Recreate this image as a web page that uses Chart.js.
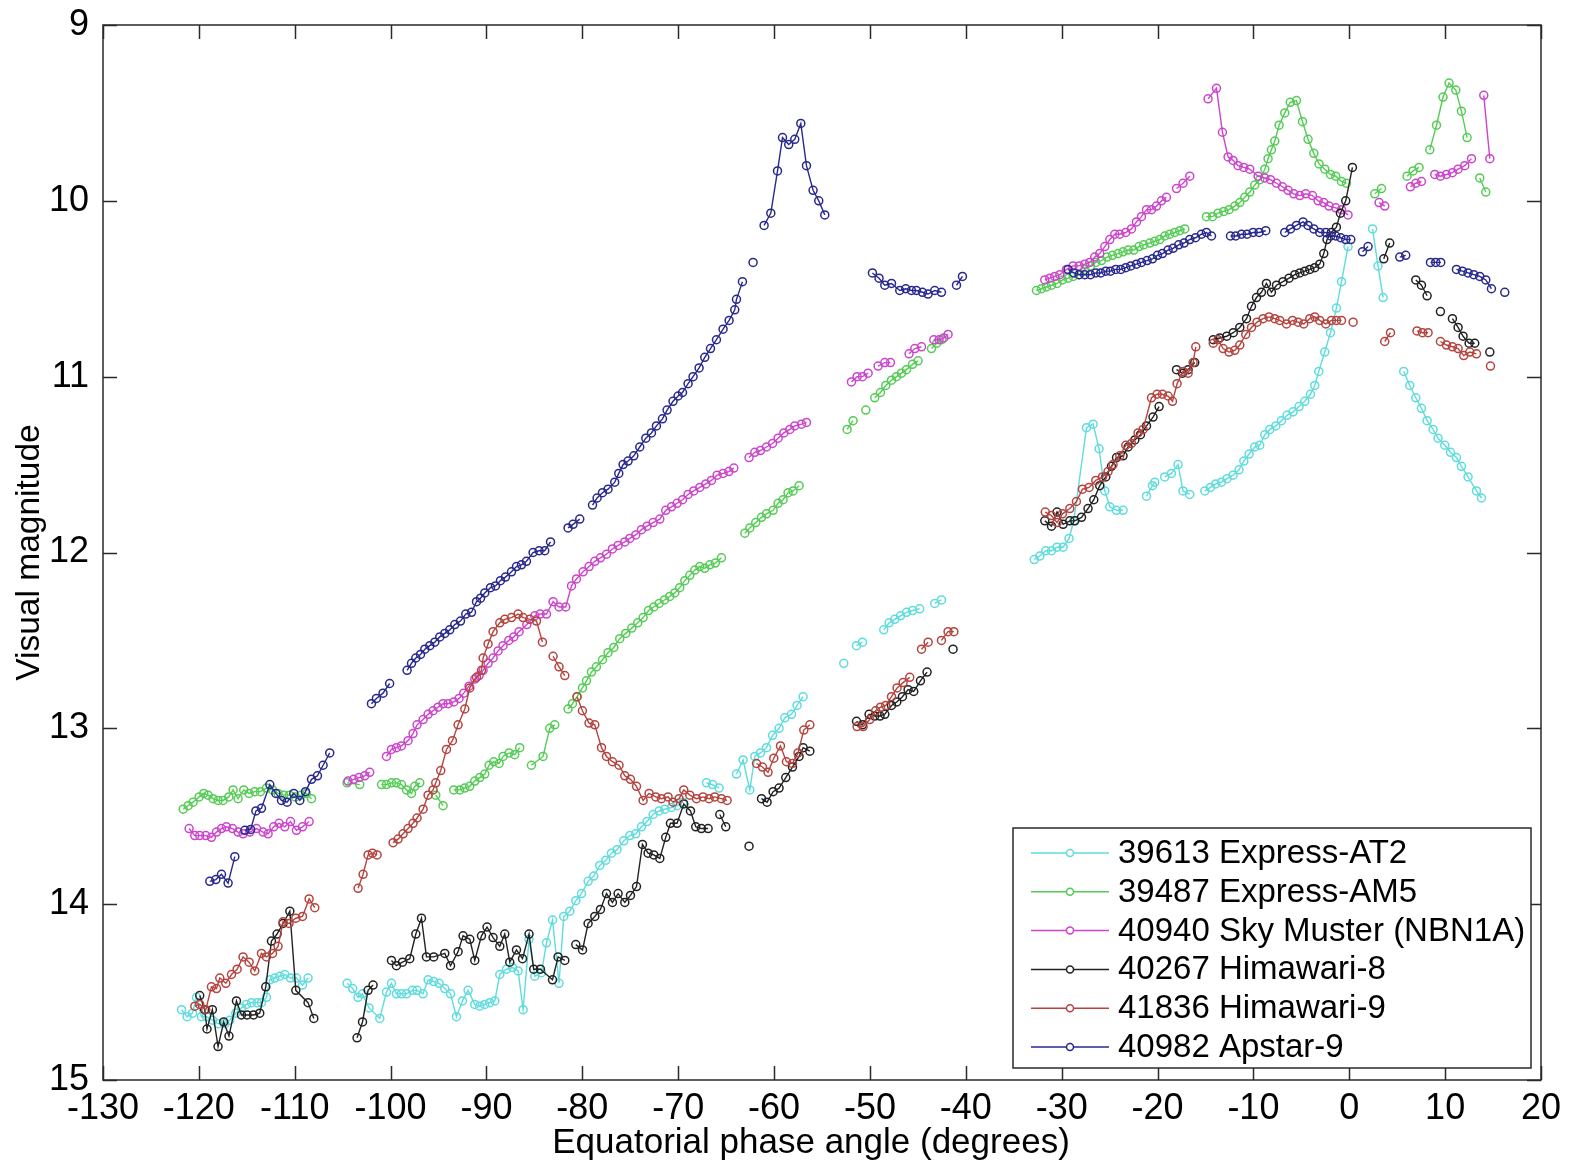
<!DOCTYPE html>
<html>
<head>
<meta charset="utf-8">
<title>Visual magnitude vs equatorial phase angle</title>
<script src="https://cdn.jsdelivr.net/npm/chart.js@4.4.0/dist/chart.umd.min.js"></script>
<style>
  body { margin: 0; background: #fff; }
</style>
</head>
<body>
<canvas id="magChart" width="1574" height="1170"></canvas>
<script>
// axis ticks
const xTicks = [-130, -120, -110, -100, -90, -80, -70, -60, -50, -40, -30, -20, -10, 0, 10, 20];
const yTicks = [9, 10, 11, 12, 13, 14, 15];

const names = [
  '39613 Express-AT2',
  '39487 Express-AM5',
  '40940 Sky Muster (NBN1A)',
  '40267 Himawari-8',
  '41836 Himawari-9',
  '40982 Apstar-9'
];
const colors = ['#5fdcdc', '#55cc55', '#cc45cc', '#222222', '#b5443f', '#28288f'];

// [phase angle, magnitude], null = gap between passes
const at2 = [
  [-121.81,14.60],[-121.23,14.64],[-120.66,14.62],[-120.25,14.53],[-119.73,14.64],[-119.21,14.64],[-118.58,14.66],[-118.00,14.68],[-117.30,14.68],[-116.78,14.66],[-116.15,14.62],[-115.56,14.59],[-115.04,14.57],[-114.51,14.56],[-113.93,14.56],[-113.47,14.56],[-112.95,14.53],[-112.60,14.43],[-112.08,14.42],[-111.56,14.41],[-111.04,14.40],[-110.44,14.42],[-109.82,14.42],[-109.19,14.46],[-108.61,14.42],
  null,
  [-104.54,14.45],[-103.95,14.48],[-103.40,14.53],[-102.93,14.51],[-102.25,14.59],[-101.13,14.65],[-100.43,14.50],[-99.91,14.45],[-99.39,14.51],[-98.87,14.51],[-98.34,14.51],[-97.72,14.49],[-97.24,14.49],[-96.61,14.51],[-96.09,14.43],[-95.50,14.44],[-94.94,14.45],[-94.35,14.48],[-93.75,14.51],[-93.13,14.64],[-92.50,14.55],[-91.92,14.49],[-91.22,14.57],[-90.70,14.58],[-90.18,14.57],[-89.66,14.56],[-89.13,14.55],[-88.61,14.40],[-87.91,14.37],[-87.29,14.36],[-86.70,14.38],[-86.18,14.60],[-85.56,14.20],[-84.96,14.41],[-84.26,14.39],[-83.74,14.22],[-83.11,14.09],[-82.43,14.45],[-81.94,14.07],[-81.31,14.04],[-80.68,13.98],[-80.09,13.94],[-79.40,13.87],[-78.81,13.84],[-78.18,13.78],[-77.55,13.75],[-76.96,13.71],[-76.38,13.69],[-75.68,13.64],[-75.05,13.61],[-74.43,13.60],[-73.83,13.56],[-73.25,13.53],[-72.62,13.49],[-71.99,13.47],[-71.40,13.46],[-70.70,13.45],[-70.12,13.44],[-69.49,13.42],
  null,
  [-67.05,13.31],[-66.42,13.32],[-65.73,13.34],
  null,
  [-63.92,13.26],[-63.23,13.18],[-62.53,13.35],[-62.01,13.16],[-61.42,13.14],[-60.79,13.11],[-60.16,13.04],[-59.48,13.00],[-58.88,12.94],[-58.18,12.92],[-57.60,12.87],[-56.97,12.82],
  null,
  [-52.73,12.63],
  null,
  [-51.40,12.53],[-50.78,12.51],
  null,
  [-48.56,12.44],[-48.00,12.40],[-47.41,12.38],[-46.81,12.36],[-46.19,12.34],[-45.55,12.33],[-44.81,12.32],
  null,
  [-43.24,12.29],[-42.54,12.27],
  null,
  [-32.86,12.04],[-32.28,12.02],[-31.66,11.99],[-31.06,11.99],[-30.48,11.97],[-29.85,11.97],[-29.23,11.92],[-28.74,11.82],[-27.41,11.29],[-26.72,11.27],[-26.10,11.41],[-25.50,11.65],[-24.98,11.74],[-24.28,11.76],[-23.60,11.76],
  null,
  [-21.15,11.68],[-20.53,11.62],[-20.29,11.60],
  null,
  [-19.25,11.57],[-18.55,11.55],[-17.86,11.50],[-17.34,11.65],[-16.64,11.67],
  null,
  [-15.07,11.65],[-14.48,11.63],[-13.93,11.61],[-13.33,11.60],[-12.75,11.58],[-12.12,11.56],[-11.50,11.53],[-11.00,11.48],[-10.45,11.44],[-9.86,11.40],[-9.34,11.39],[-8.81,11.33],[-8.29,11.30],[-7.66,11.28],[-7.07,11.25],[-6.49,11.22],[-5.86,11.20],[-5.24,11.17],[-4.64,11.14],[-4.05,11.10],[-3.60,11.05],[-3.18,10.97],[-2.56,10.86],[-1.96,10.75],[-1.34,10.61],[-0.81,10.46],[-0.13,10.26],
  null,
  [2.43,10.16],[3.00,10.37],[3.53,10.55],
  null,
  [5.68,10.97],[6.31,11.05],[6.94,11.12],[7.53,11.18],[8.12,11.25],[8.74,11.30],[9.26,11.35],[9.96,11.39],[10.56,11.43],[11.18,11.46],[11.70,11.51],[12.39,11.57],[13.27,11.65],[13.79,11.69]
];

const am5 = [
  [-121.64,13.46],[-121.12,13.44],[-120.60,13.42],[-119.97,13.39],[-119.49,13.37],[-119.04,13.38],[-118.52,13.40],[-118.00,13.41],[-117.48,13.41],[-116.88,13.39],[-116.43,13.35],[-115.91,13.40],[-115.32,13.35],[-114.76,13.37],[-114.17,13.36],[-113.58,13.36],[-112.95,13.34],[-112.32,13.35],[-111.74,13.37],[-111.15,13.38],[-110.55,13.38],[-109.95,13.39],[-109.35,13.38],[-108.80,13.37],[-108.25,13.40],
  null,
  [-104.54,13.31],[-103.22,13.32],
  null,
  [-100.95,13.32],[-100.43,13.32],[-99.91,13.31],[-99.39,13.31],[-98.87,13.32],[-98.34,13.35],[-97.82,13.37],[-97.48,13.33],[-96.96,13.31],
  null,
  [-95.29,13.38],[-94.53,13.44],
  null,
  [-93.41,13.35],[-92.79,13.35],[-92.27,13.34],[-91.75,13.33],[-91.22,13.30],[-90.70,13.28],[-90.18,13.26],[-89.73,13.21],[-89.24,13.19],[-88.68,13.20],[-88.27,13.16],[-87.64,13.14],[-87.05,13.15],[-86.53,13.11],
  null,
  [-85.31,13.21],[-84.10,13.16],[-83.40,13.00],[-82.88,12.98],
  null,
  [-81.49,12.89],[-81.03,12.86],[-80.55,12.82],[-79.99,12.77],[-79.57,12.73],[-79.05,12.68],[-78.53,12.65],[-77.90,12.61],[-77.32,12.57],[-76.72,12.54],[-76.10,12.49],[-75.47,12.46],[-74.84,12.43],[-74.22,12.40],[-73.66,12.37],[-73.10,12.33],[-72.55,12.31],[-71.99,12.29],[-71.43,12.27],[-70.88,12.25],[-70.36,12.23],[-69.84,12.20],[-69.31,12.16],[-68.79,12.13],[-68.27,12.10],[-67.75,12.08],[-67.23,12.09],[-66.70,12.07],[-66.13,12.06],[-65.49,12.03],
  null,
  [-63.05,11.89],[-62.53,11.86],[-61.91,11.83],[-61.31,11.80],[-60.79,11.78],[-60.10,11.76],[-59.58,11.72],[-59.06,11.70],[-58.54,11.66],[-58.02,11.65],[-57.39,11.62],
  null,
  [-52.38,11.30],[-51.76,11.25],
  null,
  [-50.43,11.19],
  null,
  [-49.50,11.12],[-48.90,11.09],[-48.35,11.05],[-47.75,11.02],[-47.23,11.00],[-46.71,10.98],[-46.19,10.96],[-45.56,10.93],[-44.98,10.91],
  null,
  [-43.58,10.84],[-43.03,10.81],[-42.51,10.79],
  null,
  [-32.63,10.51],[-32.11,10.50],[-31.59,10.49],[-31.06,10.48],[-30.48,10.47],[-29.92,10.45],[-29.33,10.44],[-28.81,10.43],[-28.18,10.42],[-27.59,10.39],[-27.00,10.37],[-26.44,10.35],[-25.85,10.34],[-25.26,10.32],[-24.70,10.31],[-24.12,10.30],[-23.60,10.29],[-23.07,10.28],[-22.48,10.28],[-21.93,10.26],[-21.44,10.25],[-20.81,10.24],[-20.29,10.23],[-19.77,10.22],[-19.25,10.20],[-18.73,10.19],[-18.20,10.18],[-17.68,10.17],[-17.16,10.16],
  null,
  [-14.90,10.09],[-14.27,10.09],[-13.69,10.07],[-13.09,10.06],[-12.54,10.05],[-11.94,10.03],[-11.42,10.01],[-10.90,9.98],[-10.38,9.95],[-9.86,9.91],[-9.34,9.88],[-8.81,9.82],[-8.47,9.76],[-8.12,9.71],[-7.77,9.66],[-7.32,9.57],[-6.73,9.50],[-6.16,9.44],[-5.51,9.43],[-4.88,9.55],[-4.30,9.65],[-3.70,9.73],[-3.15,9.79],[-2.55,9.82],[-1.96,9.85],[-1.41,9.86],[-0.81,9.89],[-0.29,9.90],
  null,
  [2.66,9.96],[3.36,9.93],
  null,
  [6.03,9.86],[6.65,9.83],[7.28,9.81],
  null,
  [8.40,9.71],[9.10,9.57],[9.78,9.41],[10.41,9.33],[11.11,9.37],[11.70,9.49],[12.29,9.64],
  null,
  [13.61,9.87],[14.24,9.95]
];

const nbn1a = [
  [-121.02,13.57],[-120.43,13.61],[-119.91,13.61],[-119.28,13.61],[-118.69,13.62],[-118.16,13.59],[-117.64,13.57],[-117.12,13.56],[-116.49,13.57],[-115.91,13.59],[-115.39,13.60],[-114.69,13.59],[-113.99,13.57],[-113.30,13.59],[-112.78,13.60],[-112.19,13.56],[-111.63,13.54],[-111.04,13.56],[-110.44,13.53],[-109.82,13.58],[-109.19,13.56],[-108.50,13.53],
  null,
  [-104.44,13.30],[-103.85,13.29],[-103.29,13.28],[-102.70,13.27],[-102.18,13.25],
  null,
  [-100.43,13.16],[-99.91,13.12],[-99.39,13.11],[-98.87,13.10],[-98.18,13.07],[-97.66,13.03],[-97.24,12.98],[-96.61,12.95],[-96.09,12.92],[-95.57,12.90],[-95.05,12.88],[-94.53,12.86],[-94.00,12.86],[-93.41,12.85],[-92.86,12.83],[-92.37,12.80],[-91.82,12.76],[-91.22,12.72],[-90.77,12.70],[-90.35,12.67],[-89.83,12.63],[-89.31,12.60],[-88.79,12.56],[-88.27,12.53],[-87.67,12.50],[-87.15,12.48],[-86.60,12.45],[-85.79,12.41],[-84.96,12.36],[-84.40,12.35],[-83.74,12.35],[-83.05,12.28],[-82.43,12.31],[-81.73,12.31],[-81.13,12.19],[-80.61,12.15],[-79.92,12.11],[-79.30,12.08],[-78.70,12.05],[-78.11,12.03],[-77.48,12.01],[-76.86,11.98],[-76.27,11.96],[-75.57,11.94],[-75.05,11.92],[-74.43,11.90],[-73.83,11.87],[-73.25,11.85],[-72.62,11.83],[-71.92,11.81],[-71.30,11.76],[-70.70,11.74],[-70.12,11.72],[-69.55,11.70],[-68.97,11.67],[-68.38,11.65],[-67.75,11.63],[-67.12,11.61],[-66.53,11.59],[-65.94,11.56],[-65.32,11.55],[-64.72,11.54],[-64.20,11.52],
  null,
  [-62.61,11.46],[-62.01,11.43],[-61.42,11.42],[-60.79,11.40],[-60.16,11.38],[-59.58,11.35],[-58.98,11.32],[-58.36,11.30],[-57.84,11.28],[-57.14,11.27],[-56.62,11.26],
  null,
  [-51.93,11.03],[-51.34,11.00],[-50.78,11.00],[-50.19,10.98],
  null,
  [-49.15,10.94],[-48.45,10.92],[-47.86,10.92],
  null,
  [-45.92,10.87],[-45.32,10.84],[-44.62,10.83],
  null,
  [-43.34,10.79],[-42.79,10.79],[-42.30,10.78],[-41.85,10.76],
  null,
  [-31.76,10.45],[-31.24,10.44],[-30.72,10.43],[-30.19,10.42],[-29.50,10.39],[-28.81,10.37],[-28.18,10.37],[-27.59,10.36],[-27.07,10.35],[-26.55,10.32],[-26.03,10.30],[-25.50,10.26],[-24.98,10.22],[-24.46,10.19],[-23.94,10.19],[-23.31,10.18],[-22.72,10.16],[-22.20,10.12],[-21.68,10.09],[-21.15,10.05],[-20.63,10.05],[-20.11,10.03],[-19.59,10.00],[-19.07,9.98],
  null,
  [-18.02,9.93],[-17.34,9.90],[-16.64,9.86],
  null,
  [-14.73,9.42],[-13.85,9.36],[-13.23,9.61],[-12.64,9.75],[-12.12,9.77],[-11.60,9.80],[-11.00,9.81],[-10.38,9.82],[-9.51,9.86],[-8.81,9.87],[-8.22,9.88],[-7.59,9.90],[-6.97,9.92],[-6.38,9.94],[-5.79,9.96],[-5.16,9.97],[-4.54,9.96],[-3.84,9.97],[-3.25,10.00],[-2.66,10.01],[-2.11,10.03],[-1.41,10.04],[-0.81,10.05],[-0.13,10.08],
  null,
  [3.11,10.01],[3.70,10.03],
  null,
  [6.38,9.92],[6.94,9.90],[7.53,9.89],
  null,
  [8.92,9.85],[9.51,9.86],[10.14,9.85],[10.76,9.84],[11.35,9.82],[12.05,9.80],[12.75,9.76],
  null,
  [14.03,9.40],[14.66,9.76]
];

const himawari8 = [
  [-119.91,14.52],[-119.39,14.60],[-119.15,14.71],[-118.59,14.60],[-118.00,14.81],[-117.41,14.67],[-116.86,14.75],[-116.08,14.55],[-115.56,14.63],[-114.97,14.63],[-114.30,14.63],[-113.65,14.62],[-113.02,14.47],[-112.43,14.21],[-111.84,14.17],[-111.22,14.11],[-110.51,14.04],[-109.89,14.49],[-108.61,14.56],[-108.01,14.65],
  null,
  [-103.50,14.76],[-102.93,14.67],[-102.35,14.49],[-101.83,14.46],
  null,
  [-99.91,14.32],[-99.39,14.35],[-98.76,14.33],[-98.00,14.31],[-97.37,14.17],[-96.78,14.08],[-96.26,14.30],[-95.50,14.30],[-94.35,14.28],[-93.75,14.35],[-92.96,14.27],[-92.44,14.18],[-91.74,14.20],[-91.22,14.32],[-90.52,14.18],[-89.94,14.13],[-89.31,14.19],[-88.61,14.24],[-88.09,14.17],[-87.57,14.33],[-86.87,14.26],[-86.24,14.31],[-85.56,14.17],[-85.07,14.37],[-84.37,14.37],[-83.11,14.43],[-82.53,14.30],[-81.83,14.32],
  null,
  [-80.68,14.23],[-79.98,14.26],[-79.40,14.11],[-78.70,14.07],[-78.11,14.03],[-77.48,13.94],[-76.86,13.99],[-76.27,13.94],[-75.57,13.99],[-74.98,13.95],[-74.35,13.90],[-73.73,13.66],[-73.14,13.71],[-72.55,13.72],[-71.92,13.74],[-71.30,13.62],[-70.81,13.54],[-70.12,13.54],[-69.42,13.43],[-68.72,13.47],[-68.17,13.56],[-67.58,13.57],[-66.88,13.57],
  null,
  [-65.66,13.49],[-65.04,13.56],
  null,
  [-62.61,13.67],
  null,
  [-61.31,13.40],[-60.73,13.42],[-60.10,13.36],[-59.48,13.34],[-58.78,13.28],[-58.08,13.22],[-57.39,13.16],[-56.97,13.11],[-56.27,13.13],
  null,
  [-51.40,12.96],[-50.78,12.98],[-50.09,12.92],[-49.50,12.93],[-48.95,12.93],[-48.45,12.92],[-47.75,12.87],[-47.20,12.85],[-46.61,12.82],[-46.02,12.78],[-45.43,12.79],[-44.73,12.73],[-44.04,12.68],
  null,
  [-41.33,12.55],
  null,
  [-31.76,11.82],[-31.06,11.85],[-30.48,11.77],[-29.85,11.84],[-29.15,11.82],[-28.63,11.82],[-27.93,11.80],[-27.25,11.75],[-26.65,11.70],[-26.03,11.62],[-25.40,11.57],[-24.81,11.51],[-24.28,11.46],[-23.60,11.45],[-23.07,11.40],[-22.37,11.36],[-21.78,11.33],[-21.15,11.28],[-20.47,11.23],[-19.84,11.17],
  null,
  [-18.02,10.96],[-17.40,10.98],[-16.81,10.96],[-16.12,10.92],
  null,
  [-14.19,10.79],[-13.51,10.78],[-12.78,10.77],[-12.10,10.75],[-11.42,10.72],[-10.72,10.67],[-10.20,10.60],[-9.68,10.55],[-9.16,10.52],[-8.64,10.47],[-8.12,10.52],[-7.59,10.48],[-6.91,10.46],[-6.28,10.44],[-5.68,10.42],[-5.16,10.41],[-4.64,10.40],[-4.12,10.39],[-3.60,10.38],[-3.08,10.36],[-2.66,10.30],[-2.32,10.22],[-1.86,10.18],[-1.34,10.15],[-0.92,10.07],[-0.37,10.00],[0.33,9.81],
  null,
  [3.60,10.33],[4.22,10.24],
  null,
  [6.94,10.45],[7.53,10.48],[8.12,10.54],
  null,
  [9.51,10.63],
  null,
  [10.76,10.67],[11.35,10.72],[11.87,10.77],[12.50,10.81],[13.09,10.81],
  null,
  [14.66,10.86]
];

const himawari9 = [
  [-120.42,14.58],[-119.91,14.57],[-119.28,14.60],[-118.69,14.47],[-118.16,14.48],[-117.82,14.42],[-117.19,14.45],[-116.60,14.40],[-116.01,14.37],[-115.39,14.30],[-114.76,14.33],[-114.17,14.38],[-113.47,14.28],[-112.95,14.30],[-112.32,14.28],[-111.74,14.24],[-111.22,14.10],[-110.59,14.11],[-109.89,14.08],[-109.19,14.07],[-108.50,13.97],[-107.91,14.02],
  null,
  [-103.39,13.91],[-102.87,13.83],[-102.35,13.72],[-101.89,13.71],[-101.41,13.72],
  null,
  [-99.74,13.65],[-99.22,13.63],[-98.70,13.60],[-98.18,13.57],[-97.66,13.54],[-97.24,13.51],[-96.61,13.46],[-96.09,13.38],[-95.57,13.35],[-95.29,13.31],[-94.77,13.24],[-94.17,13.12],[-93.55,13.07],[-92.96,12.98],[-92.26,12.89],[-91.74,12.77],[-91.04,12.71],[-90.52,12.67],[-90.35,12.60],[-89.83,12.52],[-89.31,12.45],[-88.61,12.40],[-88.09,12.38],[-87.39,12.37],[-86.70,12.35],[-86.18,12.37],[-85.48,12.38],[-84.78,12.39],[-84.16,12.51],
  null,
  [-83.05,12.59],[-82.43,12.65],[-81.83,12.70],
  null,
  [-80.55,12.82],[-79.99,12.90],[-79.30,12.97],[-78.70,12.98],[-78.00,13.11],[-77.48,13.16],[-76.86,13.19],[-76.17,13.21],[-75.57,13.27],[-74.98,13.29],[-74.35,13.33],[-73.66,13.41],[-73.04,13.37],[-72.34,13.39],[-71.75,13.40],[-71.06,13.39],[-70.54,13.42],[-69.91,13.40],[-69.42,13.35],[-68.79,13.38],[-68.09,13.40],[-67.41,13.39],[-66.78,13.40],[-66.19,13.39],[-65.49,13.40],[-64.90,13.41],
  null,
  [-61.83,13.20],[-61.21,13.22],[-60.63,13.25],[-60.03,13.17],[-59.33,13.10],[-58.71,13.19],[-58.08,13.20],[-57.50,13.14],[-56.90,13.01],[-56.27,12.98],
  null,
  [-51.34,12.99],[-50.71,12.99],[-50.02,12.95],[-49.40,12.90],[-48.90,12.88],[-48.35,12.87],[-47.75,12.82],[-47.17,12.77],[-46.54,12.74],[-45.85,12.71],
  null,
  [-44.62,12.55],[-43.93,12.51],
  null,
  [-42.54,12.50],[-41.85,12.45],[-41.25,12.45],
  null,
  [-31.71,11.77],[-31.06,11.79],[-30.48,11.83],[-29.92,11.78],[-29.15,11.75],[-28.46,11.71],[-27.83,11.64],[-27.14,11.63],[-26.44,11.59],[-25.74,11.57],[-25.16,11.54],[-24.64,11.50],[-23.94,11.45],[-23.31,11.39],[-22.72,11.38],[-22.03,11.32],[-21.51,11.30],[-20.63,11.12],[-20.05,11.10],[-19.49,11.10],[-18.90,11.11],[-18.44,11.14],[-17.96,11.04],[-17.34,10.97],[-16.81,10.98],[-16.29,10.92],[-16.01,10.83],
  null,
  [-14.19,10.81],[-13.69,10.79],[-13.16,10.84],[-12.54,10.86],[-11.94,10.85],[-11.42,10.82],[-10.80,10.76],[-10.20,10.72],[-9.62,10.69],[-8.99,10.67],[-8.37,10.66],[-7.77,10.67],[-7.25,10.68],[-6.55,10.70],[-5.92,10.68],[-5.34,10.69],[-4.75,10.70],[-4.12,10.67],[-3.60,10.66],[-3.08,10.68],[-2.45,10.70],[-1.86,10.68],[-1.34,10.68],[-0.81,10.68],
  null,
  [0.40,10.69],
  null,
  [3.70,10.80],[4.30,10.75],
  null,
  [7.07,10.74],[7.64,10.75],[8.22,10.75],
  null,
  [9.51,10.80],[10.14,10.82],[10.76,10.83],[11.35,10.84],[11.94,10.88],[12.57,10.86],[13.27,10.87],
  null,
  [14.73,10.94]
];

const apstar9 = [
  [-118.86,13.87],[-118.23,13.86],[-117.64,13.83],[-116.95,13.88],[-116.25,13.73],
  null,
  [-115.20,13.58],[-114.60,13.575],[-114.05,13.47],[-113.47,13.455],[-112.60,13.32],[-111.97,13.37],[-111.38,13.41],[-110.80,13.42],[-110.10,13.37],[-109.47,13.41],[-108.88,13.36],[-108.25,13.29],[-107.63,13.27],[-107.04,13.21],[-106.35,13.14],
  null,
  [-102.00,12.86],[-101.48,12.83],[-100.79,12.80],[-100.10,12.745],
  null,
  [-98.28,12.67],[-97.82,12.63],[-97.37,12.60],[-96.88,12.58],[-96.43,12.55],[-95.91,12.53],[-95.39,12.51],[-94.87,12.48],[-94.35,12.46],[-93.83,12.44],[-93.30,12.41],[-92.71,12.39],[-92.16,12.35],[-91.56,12.34],[-91.04,12.28],[-90.62,12.26],[-90.18,12.23],[-89.58,12.20],[-89.06,12.19],[-88.54,12.16],[-88.02,12.14],[-87.39,12.11],[-86.87,12.08],[-86.35,12.07],[-85.83,12.05],[-85.14,12.00],[-84.51,11.99],[-83.92,11.99],[-83.32,11.94],
  null,
  [-81.49,11.86],[-80.97,11.84],[-80.27,11.81],
  null,
  [-78.94,11.73],[-78.46,11.69],[-77.90,11.66],[-77.32,11.64],[-76.62,11.60],[-76.20,11.55],[-75.75,11.50],[-75.23,11.48],[-74.63,11.45],[-74.01,11.40],[-73.38,11.35],[-72.79,11.32],[-72.27,11.28],[-71.64,11.24],[-71.16,11.19],[-70.54,11.14],[-70.01,11.11],[-69.55,11.09],[-68.97,11.04],[-68.45,11.00],[-67.82,10.95],[-67.23,10.89],[-66.63,10.84],[-66.01,10.79],[-65.32,10.73],[-64.69,10.68],[-64.10,10.62],[-63.92,10.56],[-63.30,10.46],
  null,
  [-62.19,10.35],
  null,
  [-61.04,10.14],[-60.34,10.07],[-59.64,9.83],[-59.12,9.64],[-58.47,9.68],[-57.84,9.65],[-57.21,9.56],[-56.62,9.80],[-55.93,9.94],[-55.34,10.00],[-54.71,10.08],
  null,
  [-49.74,10.41],[-49.05,10.44],[-48.45,10.48],[-47.75,10.47],[-46.89,10.51],[-46.26,10.50],[-45.67,10.51],[-45.15,10.51],[-44.52,10.52],[-43.94,10.53],[-43.24,10.51],[-42.54,10.52],
  null,
  [-40.97,10.48],[-40.35,10.43],
  null,
  [-29.33,10.39],[-28.74,10.41],[-28.18,10.42],[-27.59,10.42],[-27.00,10.42],[-26.44,10.41],[-25.92,10.41],[-25.40,10.40],[-24.91,10.40],[-24.36,10.39],[-23.83,10.39],[-23.31,10.38],[-22.79,10.37],[-22.20,10.36],[-21.68,10.35],[-21.09,10.34],[-20.53,10.33],[-20.01,10.31],[-19.49,10.30],[-18.90,10.28],[-18.38,10.27],[-17.79,10.25],[-17.23,10.24],[-16.64,10.22],[-16.04,10.21],[-15.42,10.19],[-14.90,10.18],[-14.37,10.20],
  null,
  [-12.39,10.20],[-11.84,10.20],[-11.24,10.19],[-10.66,10.19],[-10.03,10.18],[-9.41,10.18],[-8.71,10.17],
  null,
  [-6.73,10.18],[-6.13,10.16],[-5.51,10.14],[-4.82,10.12],[-4.30,10.14],[-3.70,10.16],[-3.08,10.18],[-2.45,10.18],[-1.93,10.20],[-1.41,10.20],[-0.89,10.21],[-0.37,10.22],[0.16,10.22],
  null,
  [1.38,10.29],[1.96,10.26],
  null,
  [5.27,10.32],[5.89,10.31],
  null,
  [8.47,10.35],[9.02,10.35],[9.54,10.35],
  null,
  [11.18,10.39],[11.81,10.40],[12.39,10.41],[12.99,10.42],[13.61,10.43],[14.24,10.45],[14.83,10.50],
  null,
  [16.22,10.52]
];

const allSeries = [at2, am5, nbn1a, himawari8, himawari9, apstar9];

const FONT = '"Liberation Sans", Arial, Helvetica, sans-serif';
const xTitle = 'Equatorial phase angle (degrees)';

function toXY(series) {
  return series.map(p => p ? { x: p[0], y: p[1] } : { x: null, y: null });
}

// box frame, inward ticks on all four sides, x title, legend in the lower right
const boxPlugin = {
  id: 'box',
  afterDatasetsDraw(chart) {
    const { ctx, chartArea: a, scales: { x, y } } = chart;
    const len = 14;
    ctx.save();
    ctx.strokeStyle = '#2a2a2a';
    ctx.lineWidth = 1.5;
    ctx.beginPath();
    xTicks.forEach(v => {
      const px = Math.round(x.getPixelForValue(v)) + 0.5;
      ctx.moveTo(px, a.bottom); ctx.lineTo(px, a.bottom - len);
      ctx.moveTo(px, a.top); ctx.lineTo(px, a.top + len);
    });
    yTicks.forEach(v => {
      const py = Math.round(y.getPixelForValue(v)) + 0.5;
      ctx.moveTo(a.left, py); ctx.lineTo(a.left + len, py);
      ctx.moveTo(a.right, py); ctx.lineTo(a.right - len, py);
    });
    ctx.stroke();
    ctx.strokeRect(a.left, a.top, a.right - a.left, a.bottom - a.top);

    ctx.fillStyle = '#000';
    ctx.font = '35px ' + FONT;
    ctx.textAlign = 'center';
    ctx.textBaseline = 'middle';
    ctx.fillText(xTitle, 811, 1143);
    ctx.restore();
  },
  afterDraw(chart) {
    const { ctx } = chart;
    const bx = 1013, by = 828, bw = 518, bh = 240;
    ctx.save();
    ctx.fillStyle = '#fff';
    ctx.fillRect(bx, by, bw, bh);
    ctx.strokeStyle = '#2a2a2a';
    ctx.lineWidth = 1.5;
    ctx.strokeRect(bx, by, bw, bh);
    ctx.font = '33px ' + FONT;
    ctx.textBaseline = 'middle';
    names.forEach((name, i) => {
      const ly = by + 25 + i * 38.8;
      ctx.strokeStyle = colors[i];
      ctx.lineWidth = 1.5;
      ctx.beginPath();
      ctx.moveTo(bx + 18, ly); ctx.lineTo(bx + 96, ly);
      ctx.stroke();
      ctx.fillStyle = '#fff';
      ctx.beginPath();
      ctx.arc(bx + 57, ly, 3.5, 0, Math.PI * 2);
      ctx.fill();
      ctx.stroke();
      ctx.fillStyle = '#000';
      ctx.fillText(name, bx + 105, ly + 1);
    });
    ctx.restore();
  }
};

const ctx = document.getElementById('magChart').getContext('2d');

new Chart(ctx, {
  type: 'scatter',
  data: {
    datasets: allSeries.map((s, i) => ({
      label: names[i],
      data: toXY(s),
      showLine: true,
      spanGaps: false,
      order: allSeries.length - i,
      borderColor: colors[i],
      borderWidth: 1.4,
      pointRadius: 4,
      pointBorderWidth: 1.5,
      pointBorderColor: colors[i],
      pointBackgroundColor: 'rgba(255,255,255,0)'
    }))
  },
  options: {
    responsive: false,
    animation: false,
    devicePixelRatio: 1,
    layout: { padding: { top: 25, right: 33, left: 0, bottom: 0 } },
    plugins: {
      legend: { display: false },
      tooltip: { enabled: false }
    },
    scales: {
      x: {
        type: 'linear',
        min: -130,
        max: 20,
        afterFit(scale) {
          scale.height = 90;
          scale.paddingLeft = 0;
          scale.paddingRight = 0;
        },
        grid: { display: false, drawTicks: false },
        border: { display: false },
        ticks: { stepSize: 10, padding: 7, autoSkip: false, maxRotation: 0, color: '#000', font: { family: FONT, size: 36 } }
      },
      y: {
        type: 'linear',
        reverse: true,
        min: 9,
        max: 15,
        afterFit(scale) {
          scale.width = 103;
          scale.paddingTop = 0;
          scale.paddingBottom = 0;
        },
        grid: { display: false, drawTicks: false },
        border: { display: false },
        ticks: { stepSize: 1, padding: 14, color: '#000', font: { family: FONT, size: 36 } },
        title: { display: true, text: 'Visual magnitude', color: '#000', font: { family: FONT, size: 33.5 }, padding: { top: 10, bottom: 0 } }
      }
    }
  },
  plugins: [boxPlugin]
});
</script>
</body>
</html>
